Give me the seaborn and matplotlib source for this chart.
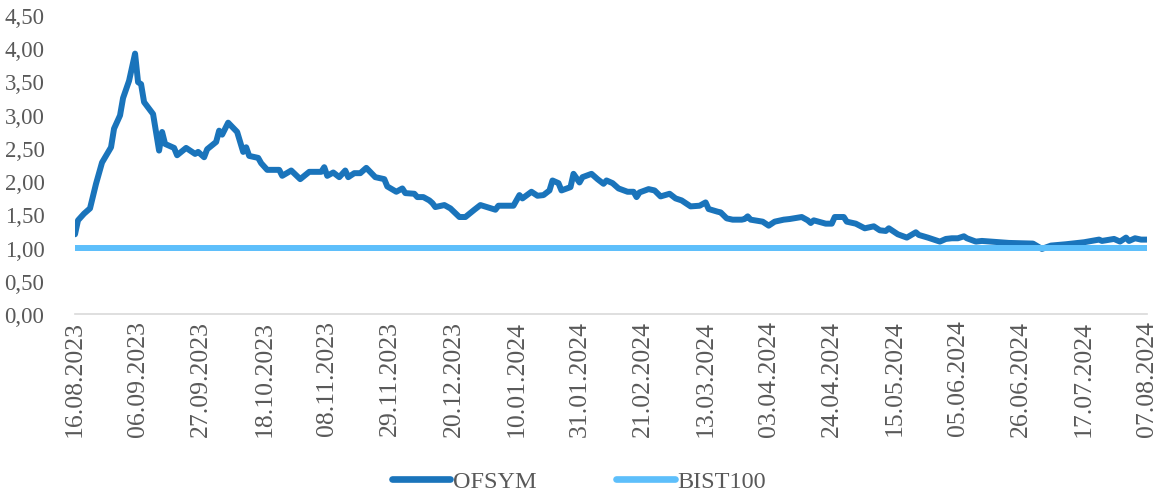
import matplotlib
matplotlib.use("Agg")
import matplotlib.pyplot as plt
import seaborn as sns
import pandas as pd

# ---- data ----
dates = [
    "2023-08-16", "2023-08-17", "2023-08-19", "2023-08-21", "2023-08-23", "2023-08-25",
    "2023-08-28", "2023-08-29", "2023-08-31", "2023-09-01", "2023-09-03", "2023-09-05",
    "2023-09-06", "2023-09-07", "2023-09-08", "2023-09-11", "2023-09-13", "2023-09-14",
    "2023-09-15", "2023-09-18", "2023-09-19", "2023-09-22", "2023-09-25", "2023-09-26",
    "2023-09-28", "2023-09-29", "2023-10-02", "2023-10-03", "2023-10-04", "2023-10-06",
    "2023-10-09", "2023-10-11", "2023-10-12", "2023-10-13", "2023-10-16", "2023-10-17",
    "2023-10-19", "2023-10-23", "2023-10-24", "2023-10-27", "2023-10-30", "2023-11-02",
    "2023-11-06", "2023-11-07", "2023-11-08", "2023-11-10", "2023-11-12", "2023-11-14",
    "2023-11-15", "2023-11-17", "2023-11-19", "2023-11-21", "2023-11-24", "2023-11-27",
    "2023-11-28", "2023-12-01", "2023-12-03", "2023-12-04", "2023-12-07", "2023-12-08",
    "2023-12-10", "2023-12-12", "2023-12-13", "2023-12-14", "2023-12-17", "2023-12-19",
    "2023-12-22", "2023-12-24", "2023-12-27", "2023-12-29", "2024-01-03", "2024-01-04",
    "2024-01-09", "2024-01-11", "2024-01-12", "2024-01-15", "2024-01-17", "2024-01-19",
    "2024-01-21", "2024-01-22", "2024-01-24", "2024-01-25", "2024-01-28", "2024-01-29",
    "2024-01-31", "2024-02-01", "2024-02-04", "2024-02-06", "2024-02-08", "2024-02-09",
    "2024-02-11", "2024-02-13", "2024-02-16", "2024-02-18", "2024-02-19", "2024-02-20",
    "2024-02-23", "2024-02-25", "2024-02-27", "2024-03-01", "2024-03-03", "2024-03-05",
    "2024-03-08", "2024-03-11", "2024-03-13", "2024-03-14", "2024-03-17", "2024-03-18",
    "2024-03-20", "2024-03-22", "2024-03-25", "2024-03-26", "2024-03-27", "2024-03-28",
    "2024-04-01", "2024-04-03", "2024-04-05", "2024-04-08", "2024-04-10", "2024-04-14",
    "2024-04-16", "2024-04-17", "2024-04-18", "2024-04-22", "2024-04-24", "2024-04-25",
    "2024-04-28", "2024-04-29", "2024-05-02", "2024-05-05", "2024-05-08", "2024-05-10",
    "2024-05-12", "2024-05-13", "2024-05-16", "2024-05-19", "2024-05-22", "2024-05-23",
    "2024-05-26", "2024-05-28", "2024-05-30", "2024-06-01", "2024-06-03", "2024-06-05",
    "2024-06-07", "2024-06-08", "2024-06-11", "2024-06-13", "2024-06-19", "2024-06-22",
    "2024-06-30", "2024-07-03", "2024-07-06", "2024-07-11", "2024-07-17", "2024-07-22",
    "2024-07-23", "2024-07-27", "2024-07-29", "2024-07-31", "2024-08-01", "2024-08-03",
    "2024-08-05", "2024-08-07",
]

ofsym = [
    1.20, 1.41, 1.51, 1.59, 1.96, 2.28,
    2.51, 2.79, 2.99, 3.25, 3.51, 3.92,
    3.49, 3.46, 3.19, 3.01, 2.46, 2.74,
    2.56, 2.50, 2.39, 2.50, 2.41, 2.44,
    2.36, 2.48, 2.59, 2.76, 2.70, 2.88,
    2.74, 2.44, 2.51, 2.38, 2.35, 2.27,
    2.17, 2.17, 2.08, 2.16, 2.03, 2.14,
    2.14, 2.21, 2.08, 2.13, 2.06, 2.16,
    2.06, 2.12, 2.12, 2.20, 2.06, 2.03,
    1.92, 1.84, 1.89, 1.82, 1.81, 1.76,
    1.76, 1.71, 1.67, 1.61, 1.64, 1.59,
    1.46, 1.46, 1.57, 1.64, 1.57, 1.63,
    1.63, 1.79, 1.74, 1.84, 1.78, 1.79,
    1.86, 2.01, 1.97, 1.86, 1.91, 2.11,
    1.98, 2.06, 2.11, 2.03, 1.96, 2.01,
    1.97, 1.89, 1.84, 1.84, 1.76, 1.83,
    1.88, 1.86, 1.77, 1.81, 1.74, 1.71,
    1.62, 1.63, 1.68, 1.58, 1.54, 1.53,
    1.44, 1.42, 1.42, 1.43, 1.47, 1.42,
    1.39, 1.33, 1.39, 1.42, 1.43, 1.46,
    1.41, 1.37, 1.41, 1.36, 1.36, 1.46,
    1.46, 1.39, 1.36, 1.29, 1.32, 1.26,
    1.25, 1.29, 1.20, 1.15, 1.23, 1.19,
    1.15, 1.12, 1.09, 1.13, 1.14, 1.14,
    1.17, 1.14, 1.09, 1.10, 1.08, 1.07,
    1.06, 0.98, 1.03, 1.05, 1.08, 1.12,
    1.10, 1.13, 1.09, 1.15, 1.10, 1.14,
    1.12, 1.12,
]

bist100 = [1.00] * len(dates)

series_names = ["OFSYM", "BIST100"]
tick_start = "2023-08-16"
tick_end = "2024-08-07"
tick_step_days = 21
y_ticks = [0.0, 0.5, 1.0, 1.5, 2.0, 2.5, 3.0, 3.5, 4.0, 4.5]

# ---- build long-form frame ----
dt = pd.to_datetime(dates)
df = pd.concat([
    pd.DataFrame({"Tarih": dt, "Değer": ofsym, "Seri": series_names[0]}),
    pd.DataFrame({"Tarih": dt, "Değer": bist100, "Seri": series_names[1]}),
], ignore_index=True)

sns.set_theme(style="white")
plt.rcParams["font.family"] = ["Liberation Serif", "DejaVu Serif"]

fig = plt.figure(figsize=(11.61, 5.02), dpi=100)
ax = fig.add_axes([0.0646, 0.3725, 0.9234, 0.5955])

palette = {"OFSYM": "#1A74BB", "BIST100": "#5DBFFB"}
sns.lineplot(data=df, x="Tarih", y="Değer", hue="Seri", hue_order=series_names,
             palette=palette, linewidth=4.3, ax=ax, legend=True,
             solid_capstyle="round", solid_joinstyle="round", estimator=None, sort=False)

# axes styling
ax.set_xlim(pd.Timestamp(tick_start), pd.Timestamp(tick_end))
ax.set_ylim(0, 4.5)
ax.set_yticks(y_ticks)
ax.set_yticklabels([f"{v:.2f}".replace(".", ",") for v in y_ticks])

xt = pd.date_range(tick_start, tick_end, freq=f"{tick_step_days}D")
ax.set_xticks(xt)
ax.set_xticklabels([d.strftime("%d.%m.%Y") for d in xt], rotation=90, ha="center", va="top")

for s in ["top", "right", "left"]:
    ax.spines[s].set_visible(False)
ax.spines["bottom"].set_color("#D9D9D9")
ax.spines["bottom"].set_linewidth(1.2)
ax.grid(False)
ax.tick_params(axis="both", length=0, colors="#595959")
ax.tick_params(axis="y", pad=22, labelsize=16.5)
ax.tick_params(axis="x", pad=4, labelsize=18.5)
ax.set_xlabel("")
ax.set_ylabel("")

leg = ax.legend(loc="center", bbox_to_anchor=(0.470, -0.56), ncol=2, frameon=False,
                fontsize=17.5, handlelength=2.4, handletextpad=0.1, columnspacing=3.3)
for t in leg.get_texts():
    t.set_color("#595959")
for h in leg.legend_handles:
    h.set_linewidth(4.8)
    h.set_solid_capstyle("round")

fig.savefig("out.png", dpi=100)
